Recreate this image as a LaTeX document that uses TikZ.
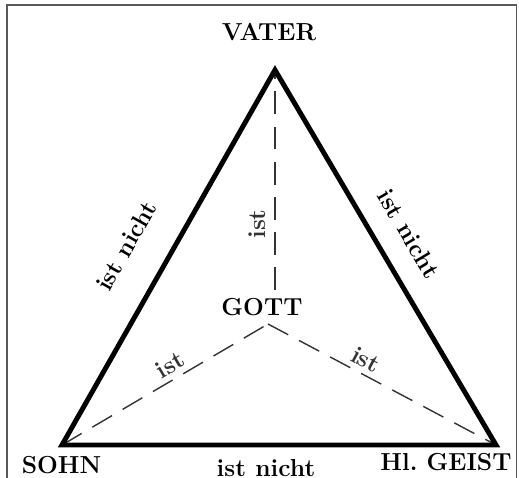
\documentclass[tikz,border=0pt]{standalone}
\begin{document}
\begin{tikzpicture}[scale=1, every node/.style={font=\fontsize{14}{16}\selectfont\bfseries, inner sep=1pt},
    seite/.style={line width=2.8pt},
    strich/.style={line width=0.8pt, black!80, dash pattern=on 13pt off 7pt}]
    \clip (0,0) rectangle (10.38,9.56);
    \draw[line width=0.9pt, black!65] (0.14,-0.5) rectangle (10.33,9.46);

    \coordinate (v) at (5.50,8.16);
    \coordinate (s) at (1.24,0.66);
    \coordinate (g) at (9.92,0.66);
    \coordinate (m) at (5.36,3.08);
    \coordinate (mo) at (5.50,3.76);

    \node (vater) at (5.38,8.91) {VATER};
    \node (sohn) at (1.23,0.25) {SOHN};
    \node (geist) at (8.92,0.31) {Hl.\ GEIST};
    \node (gott) at (5.24,3.42) {GOTT};

    % Linien zu GOTT
    \draw[strich] (mo) -- node[pos=0.3, sloped, above=4pt] (ist1) {ist} (v);
    \draw[strich] (s) -- node[pos=0.56, sloped, above=2pt] (ist2) {ist} (m);
    \draw[strich] (m) -- node[pos=0.40, sloped, above=2pt] (ist3) {ist} (g);

    % Dreieck
    \draw[seite] (s) -- node[pos=0.47, below=6pt] (nicht1) {ist nicht} (g)
        -- node[pos=0.52, sloped, above=11pt] (nicht2) {ist nicht} (v)
        -- node[pos=0.525, sloped, above=17pt] (nicht3) {ist nicht} cycle;
\end{tikzpicture}
\end{document}
